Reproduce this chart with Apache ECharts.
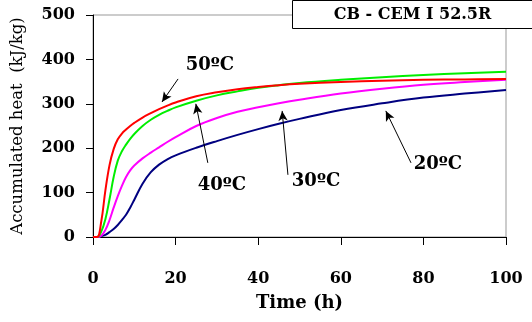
<!DOCTYPE html>
<html><head><meta charset="utf-8">
<script src="https://cdn.jsdelivr.net/npm/echarts@6/dist/echarts.min.js"></script>
<style>html,body{margin:0;padding:0;background:#fff}#c{width:532px;height:322px}</style>
</head><body><div id="c"></div>
<script>
var time   = [0,1,2,3,4,5,6,7,8,9,10,12,14,16,18,20,25,30,35,40,45,50,60,70,80,90,100];
var heat50 = [0,0,35,105,162,198,220,233,242,250,257,269,279,288,296,303,317,326,333,338,342,345,349,352,354,355,356];
var heat40 = [0,0,12,40,85,135,172,193,208,221,232,250,264,275,284,292,307,319,328,336,342,347,354,360,365,369,372];
var heat30 = [0,0,3,16,38,66,92,115,135,150,161,177,190,202,214,225,250,268,282,292,301,309,323,334,343,349,354];
var heat20 = [0,0,2,5,11,18,27,38,50,66,84,120,146,163,175,184,201,216,230,243,255,266,286,301,314,323,331];
var seriesNames = ['50ºC','40ºC','30ºC','20ºC'];
var seriesColors = ['#ff0000','#00ee00','#ff00ff','#000080'];
var xTicks = [0,20,40,60,80,100];
var yTicks = [0,100,200,300,400,500];
// annotation arrows: [fromX, fromY, toX, toY] in data units
var arrows = [[20.6,356,16.7,304],[27.8,167,24.9,300],[47.2,140,45.8,284],[77,167,70.9,284]];
var labelPos = [[28.3,387],[31.2,117],[54,126],[83.5,164]];

var serif = 'DejaVu Serif';
function pairs(vals){return time.map(function(t,i){return [t,vals[i]];});}
var allVals = [heat50,heat40,heat30,heat20];
var series = allVals.map(function(v,i){
  return {name:seriesNames[i],type:'line',data:pairs(v),smooth:0.4,showSymbol:false,
    lineStyle:{color:seriesColors[i],width:2},itemStyle:{color:seriesColors[i]},z:6-i};
});
series.push({type:'line',data:[],silent:true,
  markLine:{silent:true,animation:false,symbol:['none','arrow'],symbolSize:[7,10],
    lineStyle:{color:'#000',width:1,type:'solid'},label:{show:false},
    data:arrows.map(function(a){return [{coord:[a[0],a[1]]},{coord:[a[2],a[3]]}];})},
  markPoint:{silent:true,animation:false,symbol:'circle',symbolSize:0,
    label:{show:true,position:'inside',color:'#000',fontFamily:serif,fontWeight:'bold',fontSize:18,
      formatter:function(p){return p.name;}},
    data:labelPos.map(function(p,i){return {name:seriesNames[i],coord:p};})}
});

var chart = echarts.init(document.getElementById('c'));
chart.setOption({
  animation:false,
  grid:{left:93,right:26,top:15,bottom:85,containLabel:false,outerBoundsMode:'none',show:true,borderColor:'#999',borderWidth:1},
  xAxis:{type:'value',min:0,max:100,interval:20,
    name:'Time (h)',nameLocation:'middle',nameGap:57,
    nameTextStyle:{fontFamily:serif,fontWeight:'bold',fontSize:18,color:'#000'},
    axisLine:{lineStyle:{color:'#000',width:1}},
    axisTick:{inside:false,length:8,lineStyle:{color:'#000'}},
    axisLabel:{margin:34,fontFamily:serif,fontWeight:'bold',fontSize:16,color:'#000',
      formatter:function(v){return xTicks.indexOf(v)>=0?String(v):'';}},
    splitLine:{show:false}},
  yAxis:{type:'value',min:0,max:500,interval:100,
    name:'Accumulated heat  (kJ/kg)',nameLocation:'middle',nameGap:67,
    nameTextStyle:{fontFamily:serif,fontSize:16.5,color:'#000'},
    axisLine:{show:true,lineStyle:{color:'#000',width:1}},
    axisTick:{show:true,inside:false,length:7,lineStyle:{color:'#000'}},
    axisLabel:{margin:18,fontFamily:serif,fontWeight:'bold',fontSize:16,color:'#000',
      formatter:function(v){return yTicks.indexOf(v)>=0?String(v):'';}},
    splitLine:{show:false}},
  graphic:[{type:'group',left:292,top:0,children:[
    {type:'rect',shape:{x:0,y:0,width:250,height:28},style:{fill:'#fff',stroke:'#000',lineWidth:1}},
    {type:'text',x:120,y:14,style:{text:'CB - CEM I 52.5R',fontFamily:serif,fontWeight:'bold',fontSize:16,fill:'#000',align:'center',verticalAlign:'middle'}}
  ]}],
  series:series
});
</script></body></html>
